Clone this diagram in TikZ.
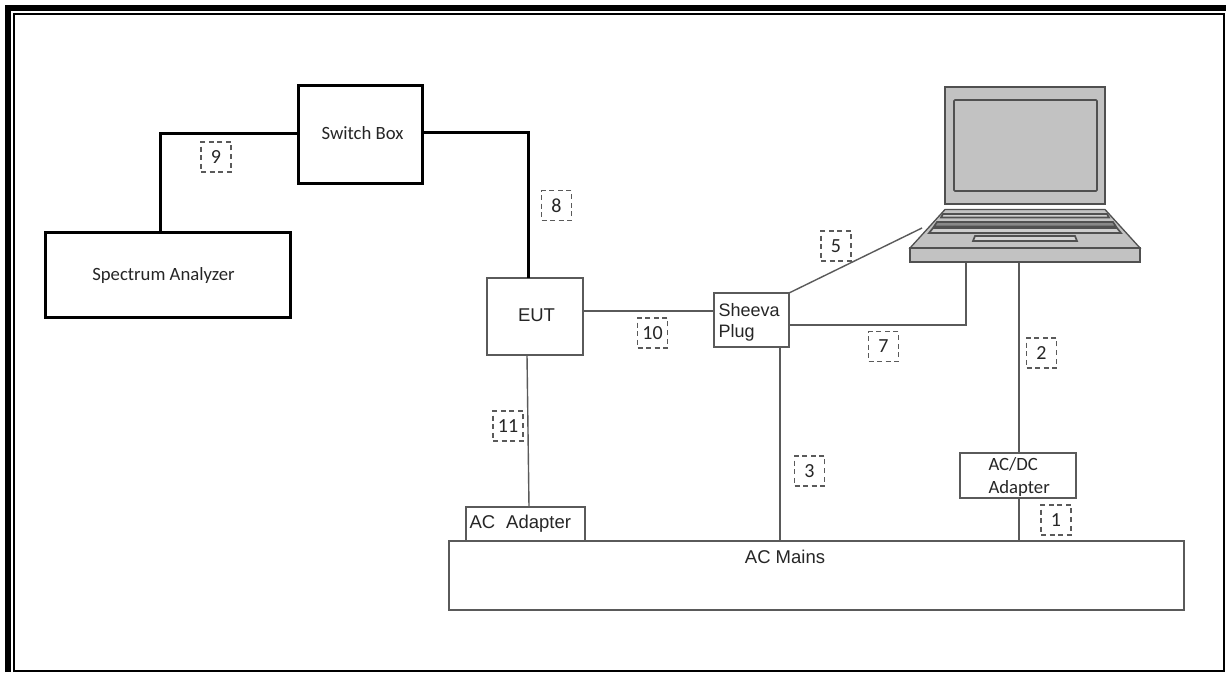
\documentclass[tikz,border=0pt]{standalone}
\usepackage{fontspec}
\setmainfont{Liberation Sans}
\newfontfamily\calfont{Carlito}
\definecolor{lapfill}{HTML}{C2C2C2}
\definecolor{lapline}{HTML}{505050}
\definecolor{thinline}{HTML}{5A5A5A}
\definecolor{txt}{HTML}{262626}
\tikzset{
 thickbox/.style={draw=black,line width=3pt,inner sep=0pt,outer sep=0pt,anchor=north west},
 thinbox/.style={draw=thinline,line width=1.6pt,inner sep=0pt,outer sep=0pt,anchor=north west},
 calib/.style={text=txt,font=\calfont\fontsize{18.7}{22}\selectfont},
 arial/.style={text=txt,font=\fontsize{18.5}{22}\selectfont},
 thickwire/.style={draw=black,line width=3pt},
 thinwire/.style={draw=thinline,line width=1.4pt},
 numbox/.style={draw=thinline,line width=1.5pt,dash pattern=on 5pt off 3.6pt,minimum width=30pt,minimum height=30pt,inner sep=0pt,outer sep=0pt,font=\calfont\fontsize{20}{24}\selectfont,text=txt,anchor=north west},
 lapshape/.style={draw=lapline,fill=lapfill,line width=1.3pt},
 lapdark/.style={draw=lapline,fill=lapfill,line width=1.7pt},
}
\begin{document}
\begin{tikzpicture}[x=1pt,y=-1pt]
\useasboundingbox (0,0) rectangle (1226,672);
\fill[white] (0,0) rectangle (1226,672);
% frame
\path[draw=black,line width=6pt] (8,672) -- (8,8) -- (1226,8);
\path[draw=black,line width=2pt] (14,672) -- (14,14) -- (1224.3,14) -- (1224.3,670.7) -- (14,670.7);
% laptop
\draw[lapshape] (945,87) rectangle (1105,204);
\draw[lapdark,rounded corners=1pt] (954,100) rectangle (1097,191);
\draw[lapshape] (945,209.5) -- (1105,209.5) -- (1140,248) -- (910,248) -- cycle;
\draw[lapdark,fill=lapfill!75!white] (943,214) -- (1107,214) -- (1109,217.5) -- (941,217.5) -- cycle;
\draw[lapdark,fill=lapfill!70!black] (937,222) -- (1113,222) -- (1116,226.5) -- (934,226.5) -- cycle;
\draw[lapdark,fill=lapfill!80!white] (933,228) -- (1117,228) -- (1121,233) -- (929,233) -- cycle;
\draw[lapdark,fill=lapfill!70!white] (975,236) -- (1075,236) -- (1077,241) -- (973,241) -- cycle;
\draw[lapshape,line width=1.8pt] (910,248) rectangle (1140,262);
\coordinate (lapA) at (966,263);
\coordinate (lapB) at (1019,263);
\coordinate (lapC) at (922,228);
% boxes
\node[thickbox,minimum width=124pt,minimum height=98pt] (sw) at (298,85) {};
\node[calib] (swt) at (362.5,133) {Switch Box};
\node[thickbox,minimum width=245pt,minimum height=85pt] (sa) at (45,232) {};
\node[calib] (sat) at (163.5,276) {Spectrum Analyzer};
\node[thinbox,minimum width=96pt,minimum height=77pt] (eut) at (487,278) {};
\node[arial] (eutt) at (536.5,315) {EUT};
\node[thinbox,minimum width=75pt,minimum height=54pt] (sp) at (714,293) {};
\node[text=txt,font=\fontsize{18}{21.5}\selectfont,align=left,anchor=west] (spt) at (715,322.5) {Sheeva\\Plug};
\node[thinbox,minimum width=116pt,minimum height=45pt] (dc) at (960,453) {};
\node[text=txt,font=\calfont\fontsize{18.7}{23}\selectfont,align=left,anchor=west] (dct) at (985,477) {AC/DC\\Adapter};
\node[thinbox,minimum width=735pt,minimum height=69pt] (mains) at (449,541) {};
\node[arial] (mainst) at (785,557) {AC Mains};
\node[thinbox,minimum width=119pt,minimum height=34pt] (ac) at (466,507) {};
\node[arial,anchor=west] (act) at (466,524) {AC\hspace{11pt}Adapter};
% wires
\draw[thickwire] (sw.west |- 0,133) -| (sa.north -| 160,0);
\draw[thickwire] (sw.east |- 0,132) -| (eut.north -| 528,0);
\draw[thinwire] (eut.east |- 0,311) -- (sp.west |- 0,311);
\draw[thinwire] (sp.north east) -- (lapC);
\draw[thinwire,line width=1.8pt] (sp.east |- 0,325) -| (lapA);
\draw[thinwire] (lapB) -- (dc.north -| lapB);
\draw[thinwire] (dc.south -| lapB) -- (mains.north -| lapB);
\draw[thinwire] (sp.south -| 780,0) -- (mains.north -| 780,0);
\draw[thinwire] (eut.south -| 527,0) -- (ac.north -| 529,0);
% numbers
\node[numbox] (n9) at (201,142) {9};
\node[numbox] (n8) at (541.5,190.5) {8};
\node[numbox] (n5) at (821,231) {5};
\node[numbox] (n10) at (637.5,318) {10};
\node[numbox] (n7) at (868.5,331.5) {7};
\node[numbox] (n2) at (1026.5,338) {2};
\node[numbox] (n11) at (493,411) {11};
\node[numbox] (n3) at (794.5,456) {3};
\node[numbox] (n1) at (1041,505) {1};
\end{tikzpicture}
\end{document}
